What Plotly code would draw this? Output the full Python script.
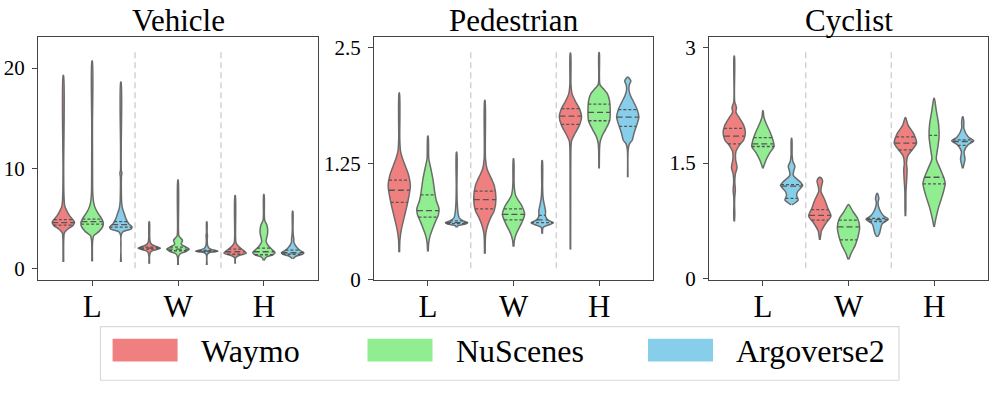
import numpy as np
import plotly.graph_objects as go

panels = ['Vehicle', 'Pedestrian', 'Cyclist']
dims = ['L', 'W', 'H']
datasets = ['Waymo', 'NuScenes', 'Argoverse2']
colors = ['#F08080', '#90EE90', '#87CEEB']

# violin outlines: size level -> relative width (1 = widest)
# order inside each panel: L(Waymo, NuScenes, Argoverse2), W(...), H(...)
vehicle_lvl = [
    [0.67, 3.0, 3.6, 4.0, 4.3, 4.6, 4.9, 5.3, 5.8, 6.3, 7.5, 10.0, 19.26],
    [0.74, 2.8, 3.3, 3.7, 4.2, 4.6, 5.0, 5.5, 6.0, 6.6, 7.5, 10.0, 14.0, 20.7],
    [0.67, 3.4, 3.7, 3.95, 4.15, 4.5, 5.0, 5.5, 6.0, 6.6, 8.0, 9.2, 9.5, 9.8, 12.0, 18.6],
    [0.51, 1.4, 1.7, 1.9, 2.05, 2.2, 2.4, 2.7, 3.2, 4.68],
    [0.38, 1.2, 1.5, 1.75, 1.95, 2.2, 2.45, 2.65, 2.85, 3.05, 3.3, 4.0, 8.85],
    [0.38, 1.4, 1.6, 1.75, 1.85, 2.0, 2.3, 2.8, 3.3, 3.6, 4.68],
    [0.51, 1.1, 1.35, 1.55, 1.75, 2.0, 2.3, 2.6, 3.2, 7.3],
    [0.83, 1.15, 1.4, 1.6, 1.9, 2.3, 2.7, 3.1, 3.5, 4.0, 4.4, 4.8, 5.5, 7.4],
    [1.0, 1.25, 1.45, 1.6, 1.8, 2.1, 2.4, 2.7, 3.0, 3.3, 4.0, 5.74],
]
vehicle_dens = [
    [0.03, 0.04, 0.1, 0.45, 0.85, 1.0, 0.85, 0.55, 0.3, 0.12, 0.05, 0.03, 0.02],
    [0.03, 0.05, 0.15, 0.6, 0.95, 1.0, 0.85, 0.55, 0.3, 0.14, 0.06, 0.04, 0.03, 0.02],
    [0.03, 0.04, 0.2, 0.9, 1.0, 0.7, 0.45, 0.3, 0.15, 0.07, 0.04, 0.05, 0.09, 0.04, 0.03, 0.02],
    [0.03, 0.04, 0.15, 0.6, 1.0, 0.7, 0.25, 0.08, 0.04, 0.02],
    [0.03, 0.05, 0.2, 0.75, 1.0, 0.65, 0.3, 0.35, 0.4, 0.25, 0.08, 0.04, 0.02],
    [0.03, 0.04, 0.2, 1.0, 0.7, 0.25, 0.08, 0.04, 0.06, 0.03, 0.02],
    [0.03, 0.05, 0.4, 1.0, 0.85, 0.55, 0.25, 0.08, 0.04, 0.02],
    [0.03, 0.2, 0.8, 1.0, 0.75, 0.4, 0.2, 0.25, 0.33, 0.33, 0.25, 0.08, 0.04, 0.02],
    [0.03, 0.3, 0.9, 1.0, 0.7, 0.4, 0.2, 0.1, 0.1, 0.06, 0.03, 0.02],
]
vehicle_quart = [
    [4.35, 4.6, 4.9], [4.45, 4.7, 4.95], [4.15, 4.4, 4.7],
    [1.95, 2.05, 2.15], [1.8, 1.95, 2.15], [1.72, 1.77, 1.84],
    [1.45, 1.7, 1.95], [1.4, 1.7, 2.05], [1.45, 1.6, 1.85],
]

pedestrian_lvl = [
    [0.29, 0.42, 0.53, 0.67, 0.84, 1.01, 1.12, 1.22, 1.3, 1.38, 1.5, 2.01],
    [0.30, 0.39, 0.47, 0.6, 0.7, 0.76, 0.85, 0.95, 1.08, 1.2, 1.3, 1.545],
    [0.56, 0.575, 0.595, 0.61, 0.63, 0.66, 0.7, 0.75, 0.85, 1.0, 1.37],
    [0.275, 0.49, 0.58, 0.67, 0.74, 0.87, 1.01, 1.07, 1.12, 1.19, 1.3, 1.93],
    [0.35, 0.42, 0.49, 0.6, 0.7, 0.78, 0.84, 0.9, 0.96, 1.05, 1.3],
    [0.49, 0.56, 0.59, 0.61, 0.64, 0.68, 0.74, 0.8, 0.88, 1.0, 1.28],
    [0.32, 1.2, 1.42, 1.49, 1.57, 1.66, 1.75, 1.83, 1.92, 2.0, 2.1, 2.44],
    [1.195, 1.4, 1.47, 1.54, 1.62, 1.71, 1.82, 1.92, 2.0, 2.06, 2.1, 2.2, 2.445],
    [1.10, 1.4, 1.46, 1.5, 1.57, 1.66, 1.75, 1.83, 1.92, 1.98, 2.05, 2.1, 2.14, 2.18],
]
pedestrian_dens = [
    [0.03, 0.06, 0.18, 0.45, 0.78, 1.0, 0.85, 0.55, 0.3, 0.12, 0.05, 0.02],
    [0.03, 0.07, 0.2, 0.6, 0.95, 1.0, 0.75, 0.6, 0.45, 0.25, 0.08, 0.02],
    [0.05, 0.1, 0.8, 1.0, 0.6, 0.25, 0.15, 0.1, 0.05, 0.03, 0.02],
    [0.03, 0.08, 0.25, 0.55, 0.85, 1.0, 0.85, 0.65, 0.45, 0.2, 0.06, 0.02],
    [0.03, 0.08, 0.25, 0.7, 1.0, 0.8, 0.5, 0.2, 0.1, 0.05, 0.02],
    [0.03, 0.1, 0.7, 1.0, 0.5, 0.3, 0.3, 0.2, 0.08, 0.04, 0.02],
    [0.02, 0.03, 0.05, 0.1, 0.4, 0.8, 1.0, 0.85, 0.45, 0.15, 0.05, 0.02],
    [0.02, 0.04, 0.08, 0.25, 0.6, 0.95, 1.0, 0.95, 0.75, 0.35, 0.08, 0.03, 0.02],
    [0.02, 0.04, 0.15, 0.4, 0.55, 0.8, 1.0, 0.85, 0.5, 0.25, 0.1, 0.15, 0.28, 0.03],
]
pedestrian_quart = [
    [0.83, 0.96, 1.07], [0.67, 0.74, 0.91], [0.6, 0.61, 0.63],
    [0.76, 0.86, 0.95], [0.64, 0.70, 0.76], [0.61, 0.64, 0.69],
    [1.67, 1.76, 1.84], [1.71, 1.80, 1.89], [1.65, 1.75, 1.83],
]

cyclist_lvl = [
    [0.74, 0.83, 0.95, 1.05, 1.15, 1.25, 1.36, 1.44, 1.55, 1.65, 1.74, 1.8, 1.9, 1.99, 2.09, 2.16, 2.22, 2.3, 2.89],
    [1.43, 1.46, 1.53, 1.63, 1.715, 1.8, 1.9, 2.01, 2.1, 2.18],
    [0.955, 0.98, 1.02, 1.08, 1.13, 1.21, 1.25, 1.34, 1.4, 1.46, 1.52, 1.6, 1.82],
    [0.50, 0.56, 0.62, 0.73, 0.81, 0.92, 1.02, 1.13, 1.2, 1.27, 1.315],
    [0.245, 0.33, 0.43, 0.54, 0.665, 0.77, 0.87, 0.96],
    [0.54, 0.58, 0.64, 0.71, 0.77, 0.81, 0.87, 0.95, 0.99, 1.04, 1.105],
    [0.81, 0.9, 1.13, 1.3, 1.42, 1.5, 1.59, 1.67, 1.76, 1.88, 1.99, 2.09],
    [0.67, 0.77, 0.92, 1.08, 1.23, 1.3, 1.44, 1.55, 1.67, 1.84, 2.01, 2.18, 2.34],
    [1.43, 1.48, 1.55, 1.65, 1.74, 1.79, 1.84, 1.95, 2.03, 2.10],
]
cyclist_dens = [
    [0.02, 0.05, 0.03, 0.04, 0.1, 0.05, 0.1, 0.25, 0.12, 0.15, 0.5, 0.85, 1.0, 0.85, 0.45, 0.15, 0.2, 0.04, 0.02],
    [0.02, 0.08, 0.25, 0.6, 1.0, 0.9, 0.65, 0.3, 0.08, 0.02],
    [0.05, 0.3, 0.6, 0.45, 0.55, 1.0, 0.8, 0.15, 0.2, 0.3, 0.12, 0.05, 0.02],
    [0.02, 0.08, 0.15, 0.6, 1.0, 0.7, 0.45, 0.1, 0.15, 0.25, 0.03],
    [0.03, 0.25, 0.6, 0.85, 1.0, 0.85, 0.4, 0.03],
    [0.03, 0.2, 0.3, 0.45, 1.0, 0.6, 0.3, 0.1, 0.08, 0.15, 0.02],
    [0.02, 0.04, 0.05, 0.12, 0.15, 0.1, 0.2, 0.6, 1.0, 0.75, 0.25, 0.02],
    [0.02, 0.15, 0.4, 0.75, 1.0, 0.9, 0.5, 0.2, 0.3, 0.45, 0.4, 0.2, 0.02],
    [0.02, 0.1, 0.2, 0.12, 0.5, 1.0, 0.5, 0.1, 0.1, 0.02],
]
cyclist_quart = [
    [1.75, 1.85, 1.95], [1.715, 1.75, 1.83], [1.04, 1.2, 1.22],
    [0.757, 0.82, 0.895], [0.50, 0.67, 0.757], [0.74, 0.765, 0.78],
    [1.67, 1.76, 1.84], [1.23, 1.315, 1.86], [1.73, 1.78, 1.80],
]

y_ticks = [[0, 10, 20], [0, 1.25, 2.5], [0, 1.5, 3]]
y_ranges = [[-1.15, 23.1], [-0.012, 2.615], [-0.025, 3.14]]

panel_data = [
    (vehicle_lvl, vehicle_dens, vehicle_quart),
    (pedestrian_lvl, pedestrian_dens, pedestrian_quart),
    (cyclist_lvl, cyclist_dens, cyclist_quart),
]

W, H = 997, 399
FONT = 'Liberation Serif'
OUTLINE = '#6b6b6b'
HALF = 0.13      # half width of a violin in category units
OFFSET = 0.335   # dodge between datasets
x_domains = [[38 / W, 318 / W], [374 / W, 653 / W], [709 / W, 988 / W]]
y_domain = [1 - 288 / H, 1 - 37 / H]

fig = go.Figure()

for p, (lvls, dens, quarts) in enumerate(panel_data):
    xa = 'x' if p == 0 else f'x{p + 1}'
    ya = 'y' if p == 0 else f'y{p + 1}'
    for k in range(9):
        g, d = divmod(k, 3)
        xc = g + (d - 1) * OFFSET
        lv = np.asarray(lvls[k], dtype=float)
        hw = np.asarray(dens[k], dtype=float) * HALF
        xs = np.concatenate([xc + hw, (xc - hw)[::-1]])
        ys = np.concatenate([lv, lv[::-1]])
        fig.add_trace(go.Scatter(
            x=xs, y=ys, mode='lines', fill='toself', fillcolor=colors[d],
            line=dict(color=OUTLINE, width=1.5, shape='spline', smoothing=0.8),
            xaxis=xa, yaxis=ya, showlegend=False, hoverinfo='skip'))
        # quartile lines (seaborn inner='quartile')
        for q, dash in zip(quarts[k], ['3px,2px', '6px,3px', '3px,2px']):
            w = float(np.interp(q, lv, hw))
            fig.add_trace(go.Scatter(
                x=[xc - w, xc + w], y=[q, q], mode='lines',
                line=dict(color='#555555', width=1.3, dash=dash),
                xaxis=xa, yaxis=ya, showlegend=False, hoverinfo='skip'))
    # dashed separators between L / W / H
    for xv in [0.5, 1.5]:
        fig.add_shape(type='line', xref=xa, yref=f'{ya} domain', x0=xv, x1=xv,
                      y0=0.05, y1=0.95, line=dict(color='#d3d3d3', width=1.5, dash='6px,4px'))
    fig.add_annotation(text=panels[p], x=sum(x_domains[p]) / 2, y=1,
                       xref='paper', yref='paper', showarrow=False,
                       xanchor='center', yanchor='top',
                       font=dict(family=FONT, size=31, color='black'))

axis_common = dict(showline=True, mirror=True, linecolor='#444444', linewidth=1.2,
                   showgrid=False, zeroline=False, ticks='outside', ticklen=5,
                   tickcolor='#444444', tickwidth=1.2)
layout_axes = {}
for p in range(3):
    sx = '' if p == 0 else str(p + 1)
    layout_axes[f'xaxis{sx}'] = dict(
        axis_common, domain=x_domains[p], range=[-0.63, 2.63], anchor=f'y{sx}',
        tickvals=[0, 1, 2], ticktext=dims, ticklabelstandoff=-7,
        tickfont=dict(family=FONT, size=31, color='black'))
    layout_axes[f'yaxis{sx}'] = dict(
        axis_common, domain=y_domain, range=y_ranges[p], anchor=f'x{sx}',
        tickvals=y_ticks[p], ticktext=[f'{t:g}' for t in y_ticks[p]], ticklabelstandoff=3,
        tickfont=dict(family=FONT, size=21, color='black'))

# legend drawn as a framed row of colour patches
fig.add_shape(type='rect', xref='paper', yref='paper',
              x0=100.5 / W, x1=899 / W, y0=1 - 391 / H, y1=1 - 335.7 / H,
              line=dict(color='#d9d9d9', width=1.2), fillcolor='white')
patch_left = [112.6, 367.5, 648.0]
for name, col, px in zip(datasets, colors, patch_left):
    fig.add_shape(type='rect', xref='paper', yref='paper',
                  x0=px / W, x1=(px + 65) / W, y0=1 - 371.7 / H, y1=1 - 348.3 / H,
                  line=dict(width=0), fillcolor=col)
    fig.add_annotation(text=name, x=(px + 86) / W, y=1 - 361 / H, xref='paper', yref='paper',
                       showarrow=False, xanchor='left', yanchor='middle',
                       font=dict(family=FONT, size=32, color='black'))

fig.update_layout(
    width=W, height=H,
    margin=dict(l=0, r=0, t=0, b=0),
    paper_bgcolor='white', plot_bgcolor='white',
    showlegend=False,
    **layout_axes,
)

# the page body keeps the browser's default 8px margin otherwise
fig.write_html('out.html', config={'displayModeBar': False},
               post_script="document.body.style.margin = '0';")
